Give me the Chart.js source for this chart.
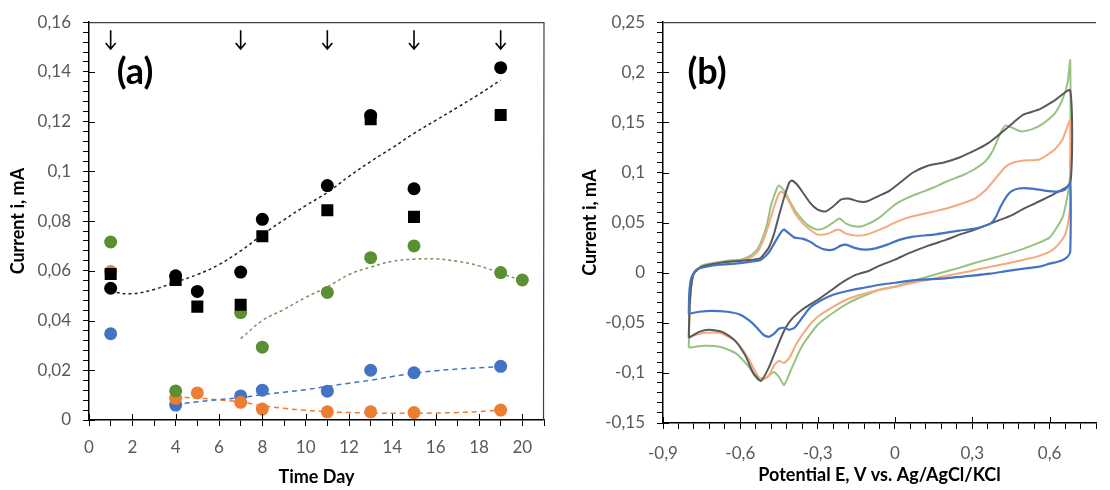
<!DOCTYPE html>
<html>
<head>
<meta charset="utf-8">
<script src="https://cdn.jsdelivr.net/npm/chart.js@4.4.0/dist/chart.umd.min.js"></script>
<style>
  html, body { margin: 0; padding: 0; background: #fff; overflow: hidden; }
  #wrap { position: relative; width: 1110px; height: 490px; }
  canvas { position: absolute; top: 0; }
  #chartA { left: 0; }
  #chartB { left: 555px; }
</style>
</head>
<body>
<div id="wrap">
  <canvas id="chartA" width="555" height="490"></canvas>
  <canvas id="chartB" width="555" height="490"></canvas>
</div>
<script>
// Panel (a) - current vs time, markers
const blackCircleDays = [1, 4, 5, 7, 8, 11, 13, 15, 19];
const blackCircleI = [0.053, 0.058, 0.0517, 0.0595, 0.0807, 0.0943, 0.1225, 0.093, 0.1417];
const blackSquareDays = [1, 4, 5, 7, 8, 11, 13, 15, 19];
const blackSquareI = [0.0587, 0.0563, 0.0456, 0.0464, 0.0739, 0.0844, 0.121, 0.0817, 0.1227];
const greenDays = [1, 4, 7, 8, 11, 13, 15, 19, 20];
const greenI = [0.0716, 0.0117, 0.0432, 0.0293, 0.0513, 0.0653, 0.07, 0.0593, 0.0563];
const blueDays = [1, 4, 7, 8, 11, 13, 15, 19];
const blueI = [0.0347, 0.006, 0.0097, 0.012, 0.0116, 0.02, 0.019, 0.0216];
const orangeDays = [1, 4, 5, 7, 8, 11, 13, 15, 19];
const orangeI = [0.0597, 0.0087, 0.0109, 0.0071, 0.0044, 0.0033, 0.0033, 0.003, 0.004];

// Panel (a) - dashed trend lines
const blackTrendDays = [1, 2, 3, 4, 5, 6, 7, 8, 9, 10, 11, 12, 13, 14, 15, 16, 17, 18, 19];
const blackTrendI = [0.0515, 0.0508, 0.0525, 0.0555, 0.0585, 0.0625, 0.068, 0.0745, 0.0805, 0.0862, 0.0915, 0.098, 0.104, 0.1095, 0.1153, 0.1205, 0.1257, 0.131, 0.1367];
const greenTrendDays = [7, 8, 9, 10, 11, 12, 13, 14, 15, 16, 17, 18, 19, 20];
const greenTrendI = [0.0327, 0.04, 0.0445, 0.0493, 0.0535, 0.0585, 0.0615, 0.0638, 0.0647, 0.0648, 0.0638, 0.062, 0.059, 0.056];
const blueTrendDays = [4, 5, 6, 7, 8, 9, 10, 11, 12, 13, 14, 15, 16, 17, 18, 19];
const blueTrendI = [0.0063, 0.0073, 0.0082, 0.009, 0.0102, 0.0112, 0.0122, 0.0135, 0.0148, 0.016, 0.0175, 0.0188, 0.0198, 0.0205, 0.021, 0.0215];
const orangeTrendDays = [4, 5, 6, 7, 8, 9, 10, 11, 12, 13, 14, 15, 16, 17, 18, 19];
const orangeTrendI = [0.0093, 0.0088, 0.0081, 0.0072, 0.0058, 0.0047, 0.0039, 0.0033, 0.003, 0.0028, 0.0027, 0.0027, 0.0028, 0.003, 0.0034, 0.004];

// arrows above the plot (days)
const arrowDays = [1, 7, 11, 15, 19];

// Panel (b) - cyclic voltammograms, forward scan then reverse scan
const cvGrayE = [-0.8, -0.797, -0.79, -0.78, -0.75, -0.7, -0.65, -0.6, -0.55, -0.52, -0.49, -0.47, -0.45, -0.43, -0.41, -0.4, -0.38, -0.36, -0.33, -0.3, -0.27, -0.24, -0.21, -0.18, -0.14, -0.11, -0.06, -0.02, 0.03, 0.07, 0.13, 0.19, 0.25, 0.31, 0.36, 0.4, 0.46, 0.5, 0.56, 0.62, 0.68,
  0.68, 0.62, 0.55, 0.5, 0.45, 0.4, 0.35, 0.3, 0.25, 0.2, 0.13, 0.05, 0, -0.06, -0.1, -0.15, -0.2, -0.25, -0.3, -0.35, -0.4, -0.43, -0.46, -0.49, -0.52, -0.55, -0.58, -0.62, -0.67, -0.72, -0.76, -0.8];
const cvGrayI = [-0.065, -0.035, -0.012, -0.001, 0.006, 0.009, 0.011, 0.012, 0.013, 0.015, 0.025, 0.038, 0.057, 0.075, 0.09, 0.092, 0.088, 0.081, 0.07, 0.063, 0.061, 0.066, 0.073, 0.074, 0.071, 0.071, 0.077, 0.082, 0.092, 0.1, 0.107, 0.11, 0.115, 0.122, 0.129, 0.137, 0.15, 0.158, 0.163, 0.172, 0.182,
  0.089, 0.079, 0.07, 0.064, 0.057, 0.052, 0.047, 0.042, 0.038, 0.033, 0.027, 0.019, 0.013, 0.007, 0.002, -0.002, -0.009, -0.018, -0.027, -0.035, -0.046, -0.058, -0.076, -0.095, -0.108, -0.1, -0.083, -0.068, -0.059, -0.057, -0.059, -0.065];

const cvGreenE = [-0.8, -0.797, -0.79, -0.78, -0.75, -0.7, -0.65, -0.6, -0.56, -0.53, -0.5, -0.48, -0.46, -0.45, -0.43, -0.41, -0.385, -0.36, -0.335, -0.3, -0.27, -0.24, -0.215, -0.19, -0.15, -0.12, -0.06, 0, 0.05, 0.1, 0.15, 0.2, 0.26, 0.3, 0.35, 0.38, 0.41, 0.43, 0.46, 0.49, 0.53, 0.57, 0.62, 0.65, 0.67, 0.68,
  0.68, 0.67, 0.65, 0.62, 0.6, 0.55, 0.5, 0.44, 0.37, 0.3, 0.25, 0.18, 0.1, 0.05, 0, -0.06, -0.12, -0.18, -0.24, -0.3, -0.36, -0.4, -0.43, -0.45, -0.47, -0.5, -0.53, -0.57, -0.62, -0.68, -0.74, -0.8];
const cvGreenI = [-0.075, -0.04, -0.012, 0, 0.007, 0.01, 0.012, 0.013, 0.017, 0.025, 0.045, 0.068, 0.083, 0.087, 0.082, 0.072, 0.061, 0.053, 0.047, 0.043, 0.045, 0.05, 0.054, 0.049, 0.046, 0.047, 0.055, 0.068, 0.075, 0.08, 0.085, 0.091, 0.097, 0.102, 0.111, 0.122, 0.14, 0.147, 0.144, 0.141, 0.143, 0.148, 0.159, 0.173, 0.19, 0.212,
  0.1, 0.078, 0.055, 0.042, 0.035, 0.029, 0.024, 0.019, 0.014, 0.009, 0.005, 0, -0.006, -0.01, -0.014, -0.017, -0.023, -0.03, -0.04, -0.052, -0.073, -0.095, -0.112, -0.104, -0.099, -0.105, -0.107, -0.093, -0.08, -0.074, -0.073, -0.075];

const cvOrangeE = [-0.8, -0.797, -0.79, -0.78, -0.75, -0.7, -0.65, -0.6, -0.56, -0.53, -0.5, -0.47, -0.45, -0.44, -0.42, -0.385, -0.36, -0.335, -0.3, -0.26, -0.22, -0.19, -0.15, -0.11, -0.05, 0, 0.05, 0.1, 0.15, 0.2, 0.26, 0.31, 0.35, 0.39, 0.43, 0.46, 0.5, 0.56, 0.62, 0.65, 0.68,
  0.68, 0.675, 0.66, 0.63, 0.6, 0.55, 0.5, 0.43, 0.37, 0.3, 0.2, 0.13, 0.07, 0, -0.06, -0.12, -0.18, -0.24, -0.3, -0.34, -0.38, -0.41, -0.43, -0.45, -0.47, -0.49, -0.51, -0.53, -0.57, -0.62, -0.68, -0.74, -0.8];
const cvOrangeI = [-0.064, -0.035, -0.012, 0, 0.006, 0.009, 0.011, 0.012, 0.015, 0.022, 0.04, 0.065, 0.079, 0.081, 0.075, 0.058, 0.05, 0.044, 0.038, 0.039, 0.043, 0.039, 0.037, 0.038, 0.044, 0.05, 0.055, 0.058, 0.061, 0.064, 0.069, 0.074, 0.082, 0.094, 0.106, 0.11, 0.112, 0.113, 0.123, 0.133, 0.152,
  0.07, 0.055, 0.038, 0.027, 0.021, 0.016, 0.013, 0.009, 0.006, 0.002, -0.003, -0.007, -0.01, -0.014, -0.017, -0.021, -0.026, -0.034, -0.044, -0.055, -0.07, -0.085, -0.09, -0.088, -0.093, -0.103, -0.106, -0.104, -0.085, -0.068, -0.06, -0.06, -0.064];

const cvBlueE = [-0.8, -0.798, -0.79, -0.77, -0.73, -0.68, -0.62, -0.56, -0.52, -0.49, -0.46, -0.44, -0.43, -0.41, -0.39, -0.36, -0.33, -0.3, -0.27, -0.24, -0.21, -0.19, -0.16, -0.12, -0.08, -0.03, 0.02, 0.07, 0.15, 0.25, 0.31, 0.37, 0.39, 0.41, 0.43, 0.45, 0.48, 0.53, 0.58, 0.63, 0.66, 0.68,
  0.68, 0.67, 0.645, 0.6, 0.56, 0.5, 0.43, 0.37, 0.3, 0.18, 0.1, 0, -0.06, -0.12, -0.18, -0.24, -0.29, -0.33, -0.36, -0.39, -0.41, -0.43, -0.45, -0.47, -0.49, -0.51, -0.55, -0.6, -0.65, -0.71, -0.76, -0.8];
const cvBlueI = [-0.041, -0.02, -0.005, 0.003, 0.006, 0.008, 0.009, 0.011, 0.013, 0.02, 0.033, 0.041, 0.043, 0.039, 0.035, 0.034, 0.031, 0.026, 0.023, 0.023, 0.027, 0.028, 0.025, 0.023, 0.024, 0.028, 0.033, 0.036, 0.038, 0.042, 0.044, 0.049, 0.055, 0.066, 0.075, 0.081, 0.084, 0.084, 0.082, 0.081, 0.083, 0.089,
  0.021, 0.016, 0.012, 0.009, 0.006, 0.004, 0.0015, -0.001, -0.003, -0.006, -0.007, -0.01, -0.012, -0.015, -0.018, -0.022, -0.028, -0.035, -0.045, -0.055, -0.057, -0.055, -0.056, -0.061, -0.064, -0.062, -0.051, -0.042, -0.039, -0.038, -0.039, -0.041];

// helpers
const fmt = v => String(Math.round(v * 1000) / 1000).replace('.', ',');
const isMajor = (v, step) => Math.abs(v / step - Math.round(v / step)) < 1e-6;
const toPts = (xs, ys) => xs.map((x, i) => ({ x: x, y: ys[i] }));

Chart.defaults.font.family = 'Lato, "Open Sans", sans-serif';
Chart.defaults.color = '#595959';
Chart.defaults.animation = false;

// inward half of the major tick marks
const tickMarks = {
  id: 'tickMarks',
  afterDraw(chart, args, opts) {
    const { ctx, chartArea: a, scales } = chart;
    ctx.save();
    ctx.strokeStyle = '#000';
    ctx.lineWidth = 1;
    scales.x.ticks.forEach(t => {
      if (!isMajor(t.value, opts.xMajor)) return;
      const px = Math.round(scales.x.getPixelForValue(t.value)) + 0.5;
      ctx.beginPath(); ctx.moveTo(px, a.bottom); ctx.lineTo(px, a.bottom - 6); ctx.stroke();
    });
    scales.y.ticks.forEach(t => {
      if (!isMajor(t.value, opts.yMajor)) return;
      const py = Math.round(scales.y.getPixelForValue(t.value)) + 0.5;
      ctx.beginPath(); ctx.moveTo(a.left, py); ctx.lineTo(a.left + 6, py); ctx.stroke();
    });
    ctx.restore();
  }
};

// top (and right) frame lines + panel letter
const frame = {
  id: 'frame',
  afterDraw(chart, args, opts) {
    const { ctx, chartArea: a } = chart;
    ctx.save();
    ctx.strokeStyle = '#404040';
    ctx.lineWidth = 1.2;
    ctx.beginPath();
    ctx.moveTo(a.left, a.top + 0.5);
    ctx.lineTo(a.right, a.top + 0.5);
    if (opts.right) ctx.lineTo(a.right - 0.5, a.bottom);
    ctx.stroke();
    ctx.fillStyle = '#000';
    ctx.font = 'bold 36px Lato, sans-serif';
    ctx.textAlign = 'center';
    ctx.textBaseline = 'middle';
    ctx.fillText(opts.letter, a.left + opts.letterDx, a.top + 50);
    ctx.restore();
  }
};

// downward arrows at the given days
const arrows = {
  id: 'arrows',
  afterDraw(chart) {
    const { ctx, scales } = chart;
    ctx.save();
    ctx.strokeStyle = '#000';
    ctx.lineWidth = 1.6;
    arrowDays.forEach(d => {
      const x = scales.x.getPixelForValue(d);
      const y1 = scales.y.getPixelForValue(0.1568);
      const y2 = scales.y.getPixelForValue(0.1492);
      ctx.beginPath();
      ctx.moveTo(x, y1); ctx.lineTo(x, y2);
      ctx.moveTo(x - 5, y2 - 6); ctx.lineTo(x, y2); ctx.lineTo(x + 5, y2 - 6);
      ctx.stroke();
    });
    ctx.restore();
  }
};

function markerSet(label, xs, ys, color, style, radius) {
  return { label, data: toPts(xs, ys), backgroundColor: color, borderColor: color, borderWidth: 0,
           pointStyle: style, pointRadius: radius };
}
function trendSet(label, xs, ys, color, dash) {
  return { label, data: toPts(xs, ys), showLine: true, pointRadius: 0, borderColor: color,
           borderWidth: 1.5, borderDash: dash, tension: 0.4, fill: false };
}

new Chart(document.getElementById('chartA'), {
  type: 'scatter',
  data: {
    datasets: [
      markerSet('black circles', blackCircleDays, blackCircleI, '#000', 'circle', 6.5),
      markerSet('black squares', blackSquareDays, blackSquareI, '#000', 'rect', 8.5),
      markerSet('green', greenDays, greenI, '#5a8f32', 'circle', 6.5),
      markerSet('orange', orangeDays, orangeI, '#ed7d31', 'circle', 6.5),
      markerSet('blue', blueDays, blueI, '#4472c4', 'circle', 6.5),
      trendSet('black trend', blackTrendDays, blackTrendI, '#222', [3, 3]),
      trendSet('green trend', greenTrendDays, greenTrendI, '#8a8a62', [3, 3]),
      trendSet('blue trend', blueTrendDays, blueTrendI, '#4472c4', [5, 4]),
      trendSet('orange trend', orangeTrendDays, orangeTrendI, '#ed7d31', [5, 4])
    ]
  },
  options: {
    responsive: false,
    devicePixelRatio: 1,
    events: [],
    layout: { padding: { left: 0, right: 6, top: 20, bottom: 0 } },
    plugins: {
      legend: { display: false },
      tooltip: { enabled: false },
      tickMarks: { xMajor: 2, yMajor: 0.02 },
      frame: { right: true, letter: '(a)', letterDx: 46 }
    },
    scales: {
      x: {
        type: 'linear', min: 0, max: 21,
        border: { color: '#000', width: 1.5 },
        grid: { drawOnChartArea: false, tickLength: 6, color: '#000' },
        ticks: { stepSize: 1, autoSkip: false, maxTicksLimit: 1000, maxRotation: 0, padding: 11,
                 font: { size: 17 }, color: '#595959', callback: v => isMajor(v, 2) ? fmt(v) : '' },
        title: { display: true, text: 'Time Day', color: '#000', font: { size: 18, weight: 'bold' },
                 padding: { top: 0, bottom: 2 } },
        afterFit: s => { s.height = 70; }
      },
      y: {
        type: 'linear', min: 0, max: 0.16,
        border: { color: '#000', width: 1.5 },
        grid: { drawOnChartArea: false, tickLength: 6, color: '#000' },
        ticks: { stepSize: 0.004, autoSkip: false, maxTicksLimit: 1000, padding: 12,
                 font: { size: 17 }, color: '#595959', callback: v => isMajor(v, 0.02) ? fmt(v) : '' },
        title: { display: true, text: 'Current i, mA', color: '#000', font: { size: 18, weight: 'bold' },
                 padding: { top: 7, bottom: 0 } },
        afterFit: s => { s.width = 89; }
      }
    }
  },
  plugins: [tickMarks, frame, arrows]
});

function cvSet(label, xs, ys, color, width) {
  return { label, data: toPts(xs, ys), showLine: true, pointRadius: 0, borderColor: color,
           borderWidth: width, tension: 0.2, fill: false, borderJoinStyle: 'round' };
}

new Chart(document.getElementById('chartB'), {
  type: 'scatter',
  data: {
    datasets: [
      cvSet('blue', cvBlueE, cvBlueI, '#4472c4', 2.2),
      cvSet('gray', cvGrayE, cvGrayI, '#595959', 2),
      cvSet('orange', cvOrangeE, cvOrangeI, '#f5a97c', 2),
      cvSet('green', cvGreenE, cvGreenI, '#97c382', 2)
    ]
  },
  options: {
    responsive: false,
    devicePixelRatio: 1,
    events: [],
    layout: { padding: { left: 0, right: 0, top: 19, bottom: 0 } },
    plugins: {
      legend: { display: false },
      tooltip: { enabled: false },
      tickMarks: { xMajor: 0.3, yMajor: 0.05 },
      frame: { right: false, letter: '(b)', letterDx: 44 }
    },
    scales: {
      x: {
        type: 'linear', min: -0.9, max: 0.78,
        border: { color: '#000', width: 1.5 },
        grid: { drawOnChartArea: false, tickLength: 6, color: '#000' },
        ticks: { stepSize: 0.06, autoSkip: false, maxTicksLimit: 1000, maxRotation: 0, padding: 14,
                 font: { size: 17 }, color: '#595959', callback: v => isMajor(v, 0.3) ? fmt(v) : '' },
        title: { display: true, text: 'Potential E, V vs. Ag/AgCl/KCl', color: '#000',
                 font: { size: 18, weight: 'bold' }, padding: { top: 0, bottom: 4 } },
        afterFit: s => { s.height = 67; }
      },
      y: {
        type: 'linear', min: -0.15, max: 0.25,
        border: { color: '#000', width: 1.5 },
        grid: { drawOnChartArea: false, tickLength: 6, color: '#000' },
        ticks: { stepSize: 0.01, autoSkip: false, maxTicksLimit: 1000, padding: 12,
                 font: { size: 17 }, color: '#595959', callback: v => isMajor(v, 0.05) ? fmt(v) : '' },
        title: { display: true, text: 'Current i, mA', color: '#000', font: { size: 18, weight: 'bold' },
                 padding: { top: 24, bottom: 0 } },
        afterFit: s => { s.width = 108; }
      }
    }
  },
  plugins: [tickMarks, frame]
});
</script>
</body>
</html>
